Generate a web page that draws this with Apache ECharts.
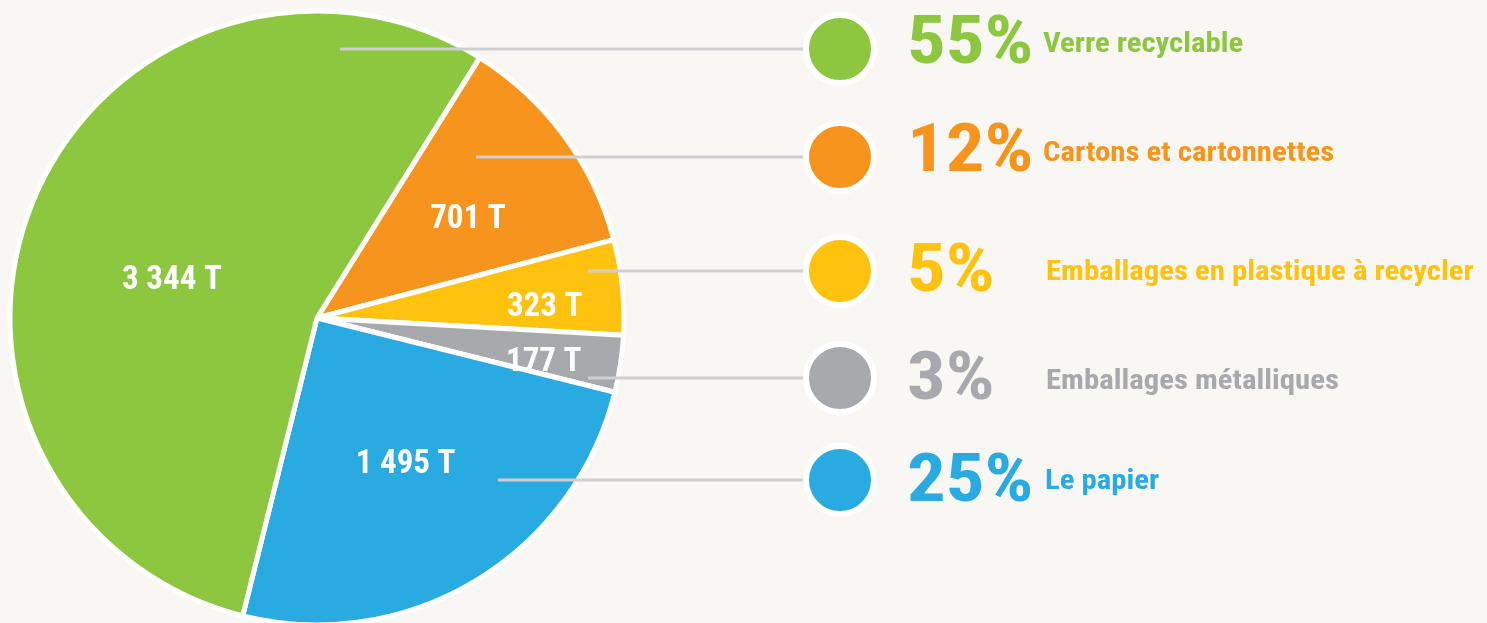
<!DOCTYPE html>
<html>
<head>
<meta charset="utf-8">
<script src="https://cdn.jsdelivr.net/npm/echarts@6/dist/echarts.min.js"></script>
<style>
  html, body { margin: 0; padding: 0; background: #f8f7f3; }
  #main { width: 1487px; height: 623px; }
</style>
</head>
<body>
<div id="main"></div>
<script>
// data
const categories = ['Verre recyclable', 'Cartons et cartonnettes', 'Emballages en plastique à recycler', 'Emballages métalliques', 'Le papier'];
const tonnages = [3344, 701, 323, 177, 1495];
const percents = [55, 12, 5, 3, 25];
const colors = ['#8dc63f', '#f7941d', '#ffc20f', '#a7a9ac', '#29aae1'];
// order of the slices, clockwise from the top-right edge of the green one
const pieOrder = [1, 2, 3, 4, 0];

// layout of the legend column on the right
const rowY = [49, 157, 271, 378, 480];
const pctY = [46, 154, 274, 382, 484];
const nameY = [45, 154, 273, 382, 482];
const nameX = [1043, 1043, 1046, 1046, 1045];
const lineStartX = [340, 476, 588, 588, 498];
// nudges for the inside labels (by category)
const labelShift = [[-1, 24], [25, -5], [72, 6], [72, 21], [8, 13]];

const FONT = "'Liberation Sans Narrow', 'Roboto Condensed', Roboto, sans-serif";

const fmtT = v => String(v).replace(/\B(?=(\d{3})+(?!\d))/g, ' ') + ' T';

const chart = echarts.init(document.getElementById('main'));

const graphics = [];
categories.forEach((name, i) => {
    graphics.push({
        type: 'line',
        z: 100,
        shape: {x1: lineStartX[i], y1: rowY[i], x2: 812, y2: rowY[i]},
        style: {stroke: '#cfcfd2', lineWidth: 3}
    });
    graphics.push({
        type: 'circle',
        z: 101,
        shape: {cx: 840, cy: rowY[i], r: 34},
        style: {fill: colors[i], stroke: '#ffffff', lineWidth: 6}
    });
    graphics.push({
        type: 'text',
        z: 101,
        x: 907,
        y: pctY[i],
        scaleX: 1.16,
        style: {
            text: percents[i] + '%',
            fill: colors[i],
            fontFamily: FONT,
            fontWeight: 'bold',
            fontSize: 66,
            verticalAlign: 'middle'
        }
    });
    graphics.push({
        type: 'text',
        z: 101,
        x: nameX[i],
        y: nameY[i],
        scaleX: 1.14,
        style: {
            text: name,
            fill: colors[i],
            fontFamily: FONT,
            fontWeight: 'bold',
            fontSize: 27,
            verticalAlign: 'middle'
        }
    });
});

const option = {
    backgroundColor: '#f8f7f3',
    animation: false,
    graphic: graphics,
    series: [
        {
            type: 'pie',
            center: [317, 318],
            radius: 307,
            startAngle: 58,
            clockwise: true,
            silent: true,
            itemStyle: {borderColor: '#ffffff', borderWidth: 5},
            label: {
                show: true,
                position: 'inside',
                formatter: p => fmtT(p.data.tonnage),
                color: '#ffffff',
                fontFamily: FONT,
                fontWeight: 'bold',
                fontSize: 33
            },
            labelLine: {show: false},
            labelLayout: params => {
                const s = labelShift[pieOrder[params.dataIndex]];
                return {dx: s[0], dy: s[1]};
            },
            data: pieOrder.map(i => ({
                name: categories[i],
                value: percents[i],
                tonnage: tonnages[i],
                itemStyle: {color: colors[i]}
            }))
        }
    ]
};

chart.setOption(option);
</script>
</body>
</html>
